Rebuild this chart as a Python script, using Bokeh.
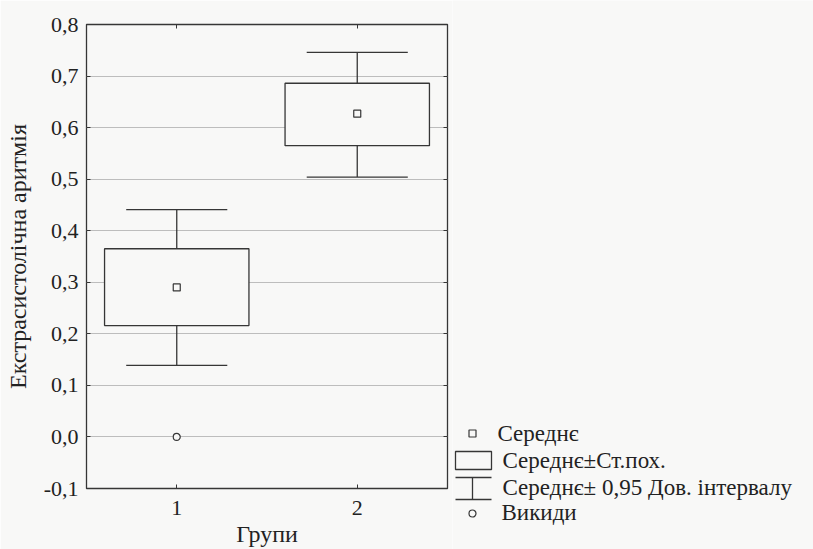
from bokeh.plotting import figure
from bokeh.models import Range1d, FixedTicker, LinearAxis
from bokeh.layouts import row
from bokeh.embed import file_html
from bokeh.resources import INLINE
from bokeh.core.properties import value

# ---------------- data ----------------
groups = [1, 2]
group_labels = ["1", "2"]
means = [0.290, 0.627]
se_low = [0.216, 0.565]
se_high = [0.365, 0.686]
ci_low = [0.139, 0.504]
ci_high = [0.441, 0.746]
outlier_group = [1]
outlier_value = [0.0]
y_ticks = [-0.1, 0.0, 0.1, 0.2, 0.3, 0.4, 0.5, 0.6, 0.7, 0.8]
y_tick_labels = ["-0,1", "0,0", "0,1", "0,2", "0,3", "0,4", "0,5", "0,6", "0,7", "0,8"]
x_title = "Групи"
y_title = "Екстрасистолічна аритмія"
legend_labels = ["Середнє", "Середнє±Ст.пох.", "Середнє± 0,95 Дов. інтервалу", "Викиди"]

# ---------------- style ----------------
FONT = "Liberation Serif"
INK = "#363636"
TXT = "#222222"
BG = "#f8f8f7"
GRID = "#bdbdbd"
BOX_HALF = 0.4
CAP_HALF = 0.28
LW = 1.3

p = figure(width=452, height=549,
           x_range=Range1d(0.5, 2.5), y_range=Range1d(-0.1, 0.8),
           output_backend="svg", toolbar_location=None,
           min_border_left=86, min_border_top=24, min_border_right=5, min_border_bottom=61)
p.frame_align = False
p.background_fill_color = BG
p.border_fill_color = BG
p.outline_line_color = INK
p.outline_line_width = LW

# grid
p.xgrid.visible = False
p.ygrid.ticker = FixedTicker(ticks=y_ticks)
p.ygrid.grid_line_color = GRID
p.ygrid.grid_line_width = 1

# axes
for ax in (p.xaxis[0], p.yaxis[0]):
    ax.axis_line_color = None
    ax.major_tick_in = 4
    ax.major_tick_out = 0
    ax.major_tick_line_color = INK
    ax.minor_tick_line_color = None
    ax.major_label_text_font = FONT
    ax.major_label_text_font_size = "22px"
    ax.major_label_text_color = TXT
    ax.axis_label_text_font = FONT
    ax.axis_label_text_font_size = "24px"
    ax.axis_label_text_font_style = "normal"
    ax.axis_label_text_color = TXT

p.xaxis.ticker = FixedTicker(ticks=groups)
p.xaxis.major_label_overrides = dict(zip(groups, group_labels))
p.xaxis.axis_label = x_title
p.xaxis.major_label_standoff = 12
p.xaxis.axis_label_standoff = 3

p.yaxis.ticker = FixedTicker(ticks=y_ticks)
p.yaxis.major_label_overrides = dict(zip(y_ticks, y_tick_labels))
p.yaxis.axis_label = y_title
p.yaxis.major_label_standoff = 8
p.yaxis.axis_label_standoff = 10

top_ax = LinearAxis(ticker=FixedTicker(ticks=groups))
right_ax = LinearAxis(ticker=FixedTicker(ticks=y_ticks))
for ax in (top_ax, right_ax):
    ax.axis_line_color = None
    ax.major_tick_in = 4
    ax.major_tick_out = 0
    ax.major_tick_line_color = INK
    ax.minor_tick_line_color = None
    ax.major_label_text_font_size = "0px"
    ax.major_label_standoff = 0
    ax.major_label_overrides = {t: "" for t in ax.ticker.ticks}
p.add_layout(top_ax, "above")
p.add_layout(right_ax, "right")

# boxes (mean ± SE), opaque so the grid does not show through
p.quad(left=[g - BOX_HALF for g in groups], right=[g + BOX_HALF for g in groups],
       bottom=se_low, top=se_high, fill_color=BG, line_color=INK, line_width=LW)
# whiskers (95% CI)
p.segment(x0=groups, y0=se_high, x1=groups, y1=ci_high, line_color=INK, line_width=LW)
p.segment(x0=groups, y0=se_low, x1=groups, y1=ci_low, line_color=INK, line_width=LW)
p.segment(x0=[g - CAP_HALF for g in groups], y0=ci_high, x1=[g + CAP_HALF for g in groups], y1=ci_high,
          line_color=INK, line_width=LW)
p.segment(x0=[g - CAP_HALF for g in groups], y0=ci_low, x1=[g + CAP_HALF for g in groups], y1=ci_low,
          line_color=INK, line_width=LW)
# means
p.scatter(groups, means, marker="square", size=7, fill_color=None, line_color=INK, line_width=1.2)
# outliers
p.scatter(outlier_group, outlier_value, marker="circle", size=7, fill_color=BG, line_color=INK, line_width=1.2)

# ---------------- legend panel (pixel coordinates, y downwards) ----------------
LG_W, LG_H = 361, 549
q = figure(width=LG_W, height=LG_H, x_range=Range1d(0, LG_W), y_range=Range1d(LG_H, 0),
           output_backend="svg", toolbar_location=None, min_border=0,
           x_axis_location=None, y_axis_location=None)
q.frame_align = False
q.background_fill_color = BG
q.border_fill_color = BG
q.outline_line_color = None
q.grid.visible = False

KX = 20           # key centre
KL, KR = 3, 39    # key left/right
rows_y = [433, 460, 487, 512]

q.scatter([KX], [rows_y[0]], marker="square", size=7, fill_color=None, line_color=INK, line_width=1.2)
q.quad(left=[KL], right=[KR], top=[rows_y[1] - 9], bottom=[rows_y[1] + 9],
       fill_color=None, line_color=INK, line_width=LW)
q.segment(x0=[KL, KL, KX], y0=[rows_y[2] - 10, rows_y[2] + 12, rows_y[2] - 10],
          x1=[KR, KR, KX], y1=[rows_y[2] - 10, rows_y[2] + 12, rows_y[2] + 12],
          line_color=INK, line_width=LW)
q.scatter([KX], [rows_y[3] + 1], marker="circle", size=7, fill_color=None, line_color=INK, line_width=1.2)

q.text(x=[45, 50, 50, 49], y=rows_y, text=legend_labels,
       text_font=value(FONT), text_font_size="23px", text_baseline="middle",
       text_align="left", text_color=TXT)

layout = row(p, q)
open("out.html", "w").write(file_html(layout, INLINE))
